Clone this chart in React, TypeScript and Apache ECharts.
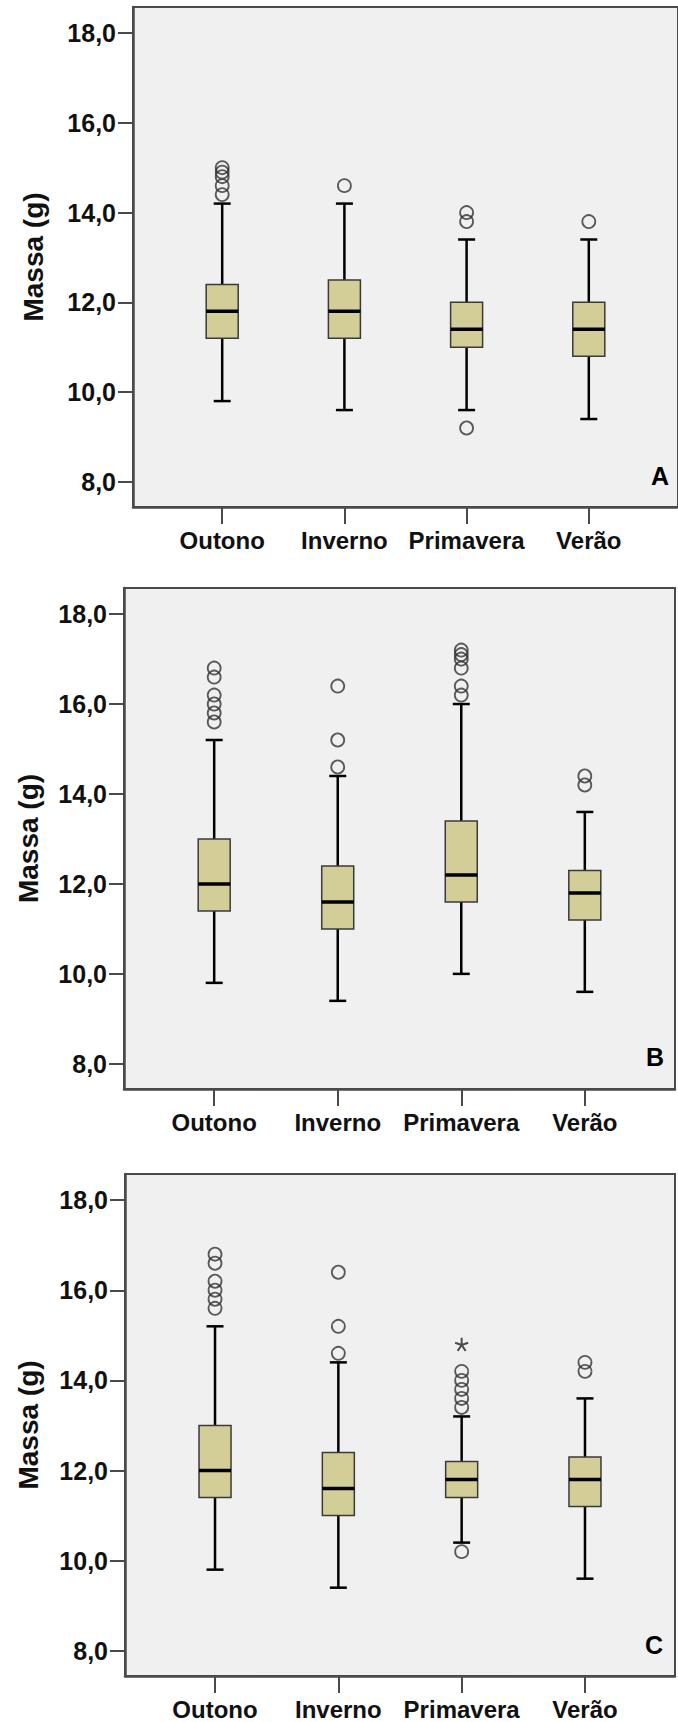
import React, { useEffect, useRef } from "react";
import * as echarts from "echarts";

const seasons = ["Outono", "Inverno", "Primavera", "Verão"];
const yTicks = [8, 10, 12, 14, 16, 18];
const xTicks = [0, 1, 2, 3];
const panelLetters = ["A", "B", "C"];

// [min whisker, Q1, median, Q3, max whisker] per season
const boxesA = [
  [9.8, 11.2, 11.8, 12.4, 14.2],
  [9.6, 11.2, 11.8, 12.5, 14.2],
  [9.6, 11.0, 11.4, 12.0, 13.4],
  [9.4, 10.8, 11.4, 12.0, 13.4],
];
const outliersA = [[15.0, 14.9, 14.8, 14.6, 14.4], [14.6], [14.0, 13.8, 9.2], [13.8]];
const extremesA = [[], [], [], []];

const boxesB = [
  [9.8, 11.4, 12.0, 13.0, 15.2],
  [9.4, 11.0, 11.6, 12.4, 14.4],
  [10.0, 11.6, 12.2, 13.4, 16.0],
  [9.6, 11.2, 11.8, 12.3, 13.6],
];
const outliersB = [
  [16.8, 16.6, 16.2, 16.0, 15.8, 15.6],
  [16.4, 15.2, 14.6],
  [17.2, 17.1, 17.0, 16.8, 16.4, 16.2],
  [14.4, 14.2],
];
const extremesB = [[], [], [], []];

const boxesC = [
  [9.8, 11.4, 12.0, 13.0, 15.2],
  [9.4, 11.0, 11.6, 12.4, 14.4],
  [10.4, 11.4, 11.8, 12.2, 13.2],
  [9.6, 11.2, 11.8, 12.3, 13.6],
];
const outliersC = [
  [16.8, 16.6, 16.2, 16.0, 15.8, 15.6],
  [16.4, 15.2, 14.6],
  [14.2, 14.0, 13.8, 13.6, 13.4, 10.2],
  [14.4, 14.2],
];
const extremesC = [[], [], [14.8], []];

const panelBoxes = [boxesA, boxesB, boxesC];
const panelOutliers = [outliersA, outliersB, outliersC];
const panelExtremes = [extremesA, extremesB, extremesC];

// layout (pixels)
const grids = [
  { left: 133, top: 7, width: 550, height: 500, nameGap: 86, letterX: 660, letterY: 476 },
  { left: 124, top: 588, width: 551, height: 501, nameGap: 82, letterX: 655, letterY: 1057 },
  { left: 125, top: 1174, width: 550, height: 502, nameGap: 83, letterX: 654, letterY: 1645 },
];

const FONT = "'Liberation Sans', Arial, sans-serif";
const AXIS_COLOR = "#4a4a4a";
const BOX_FILL = "#D3CE97";

const renderBox = (params: any, api: any) => {
  const x = api.value(0);
  const lo = api.coord([x, api.value(1)]);
  const q1 = api.coord([x, api.value(2)]);
  const md = api.coord([x, api.value(3)]);
  const q3 = api.coord([x, api.value(4)]);
  const hi = api.coord([x, api.value(5)]);
  const cx = md[0];
  const half = 16;
  const cap = 8.5;
  const wStyle = { stroke: "#000", lineWidth: 2.5 };
  return {
    type: "group",
    children: [
      { type: "line", shape: { x1: cx, y1: hi[1], x2: cx, y2: q3[1] }, style: wStyle },
      { type: "line", shape: { x1: cx, y1: q1[1], x2: cx, y2: lo[1] }, style: wStyle },
      { type: "line", shape: { x1: cx - cap, y1: hi[1], x2: cx + cap, y2: hi[1] }, style: wStyle },
      { type: "line", shape: { x1: cx - cap, y1: lo[1], x2: cx + cap, y2: lo[1] }, style: wStyle },
      {
        type: "rect",
        shape: { x: cx - half, y: q3[1], width: half * 2, height: q1[1] - q3[1] },
        style: { fill: BOX_FILL, stroke: "#3a3a3a", lineWidth: 1.5 },
      },
      {
        type: "line",
        shape: { x1: cx - half, y1: md[1], x2: cx + half, y2: md[1] },
        style: { stroke: "#000", lineWidth: 3.5 },
      },
    ],
  };
};

const STAR =
  "path://M0,-10 L0,0 M0,0 L9.51,-3.09 M0,0 L5.88,8.09 M0,0 L-5.88,8.09 M0,0 L-9.51,-3.09";

export default function App() {
  const ref = useRef<HTMLDivElement>(null);
  useEffect(() => {
    if (!ref.current) return;
    const chart = echarts.init(ref.current, null, { renderer: "svg" });

    const gridOpt = grids.map((g) => ({
      left: g.left,
      top: g.top,
      width: g.width,
      height: g.height,
      show: true,
      backgroundColor: "#F0F0F0",
      borderColor: AXIS_COLOR,
      borderWidth: 2,
      containLabel: false,
    }));

    const xAxes = grids.map((g, i) => ({
      type: "value",
      gridIndex: i,
      min: -0.73,
      max: 3.73,
      splitLine: { show: false },
      axisLine: { show: true, onZero: false, lineStyle: { color: AXIS_COLOR, width: 2.5 } },
      axisTick: {
        show: true,
        length: 17,
        customValues: xTicks,
        lineStyle: { color: AXIS_COLOR, width: 2 },
      },
      axisLabel: {
        customValues: xTicks,
        formatter: (v: number) => seasons[Math.round(v)] ?? "",
        fontFamily: FONT,
        fontWeight: "bold",
        fontSize: 24,
        color: "#111",
        margin: 21,
      },
    }));

    const yAxes = grids.map((g, i) => ({
      type: "value",
      gridIndex: i,
      min: 7.44,
      max: 18.58,
      splitLine: { show: false },
      axisLine: { show: true, onZero: false, lineStyle: { color: AXIS_COLOR, width: 2.5 } },
      axisTick: {
        show: true,
        length: 15,
        customValues: yTicks,
        lineStyle: { color: AXIS_COLOR, width: 2 },
      },
      axisLabel: {
        customValues: yTicks,
        formatter: (v: number) => v.toFixed(1).replace(".", ","),
        fontFamily: FONT,
        fontWeight: "bold",
        fontSize: 25,
        color: "#111",
        margin: 17,
      },
      name: "Massa (g)",
      nameLocation: "middle",
      nameRotate: 90,
      nameGap: g.nameGap,
      nameTextStyle: {
        fontFamily: FONT,
        fontWeight: "bold",
        fontSize: 28,
        color: "#111",
      },
    }));

    const series: any[] = [];
    panelBoxes.forEach((boxes, p) => {
      series.push({
        type: "custom",
        xAxisIndex: p,
        yAxisIndex: p,
        renderItem: renderBox,
        encode: { x: 0, y: [1, 2, 3, 4, 5] },
        data: boxes.map((b, i) => [i, ...b]),
        z: 2,
      });
      const outs: number[][] = [];
      panelOutliers[p].forEach((vals, i) => vals.forEach((v) => outs.push([i, v])));
      series.push({
        type: "scatter",
        xAxisIndex: p,
        yAxisIndex: p,
        symbol: "circle",
        symbolSize: 13,
        itemStyle: { color: "rgba(0,0,0,0)", borderColor: "#333", borderWidth: 1.8 },
        data: outs,
        z: 3,
      });
      const ext: number[][] = [];
      panelExtremes[p].forEach((vals, i) => vals.forEach((v) => ext.push([i, v])));
      if (ext.length) {
        series.push({
          type: "scatter",
          xAxisIndex: p,
          yAxisIndex: p,
          symbol: STAR,
          symbolSize: 13,
          itemStyle: { color: "rgba(0,0,0,0)", borderColor: "#222", borderWidth: 2 },
          data: ext,
          z: 3,
        });
      }
    });

    const graphic = grids.map((g, i) => ({
      type: "text",
      x: g.letterX,
      y: g.letterY,
      z: 10,
      style: {
        text: panelLetters[i],
        font: `bold 25px ${FONT}`,
        fill: "#000",
        align: "center",
        verticalAlign: "middle",
      },
    }));

    chart.setOption({
      animation: false,
      grid: gridOpt,
      xAxis: xAxes,
      yAxis: yAxes,
      series,
      graphic,
    });
    return () => chart.dispose();
  }, []);

  return (
    <div
      ref={ref}
      style={{ position: "absolute", left: 0, top: 0, width: 678, height: 1722, background: "#fff" }}
    />
  );
}
